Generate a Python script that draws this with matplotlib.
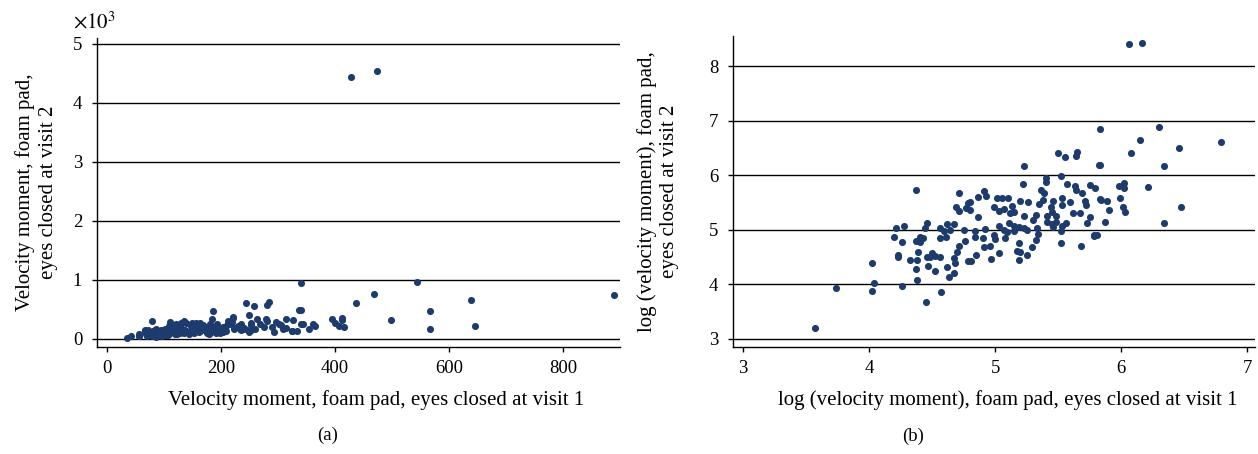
import matplotlib
matplotlib.use("Agg")
import matplotlib.pyplot as plt
import numpy as np

# log(velocity moment), foam pad, eyes closed: visit 1 (x) and visit 2 (y)
log_visit1 = [
    4.37, 4.71, 4.69, 4.71, 4.78, 4.77, 4.21, 4.28, 4.46, 4.44, 4.56, 4.62, 4.67, 4.64,
    4.75, 4.59, 4.20, 4.26, 4.40, 4.37, 4.40, 4.43, 4.56, 4.61, 4.76, 4.71, 4.70, 4.23,
    4.23, 4.39, 4.32, 4.38, 4.46, 4.50, 4.52, 4.56, 4.48, 4.67, 4.68, 4.78, 4.02, 4.47,
    4.52, 4.37, 4.62, 4.67, 4.63, 4.38, 4.04, 4.02, 4.26, 4.45, 4.57,
    5.50, 5.55, 5.65, 5.64, 5.23, 5.82, 5.40, 5.40, 5.52, 5.22, 5.57, 5.63, 5.64, 5.75,
    5.79, 5.69, 4.91, 4.93, 4.86, 4.80, 5.01, 5.05, 5.10, 5.20, 5.26, 5.36, 5.39, 5.38,
    5.35, 5.46, 5.53, 5.59, 5.71, 5.72, 5.83, 5.53, 4.99, 5.03, 5.07, 5.13, 5.15, 5.12,
    5.44, 5.45, 4.80, 4.86, 5.23, 5.32, 5.30, 5.41, 5.48, 5.41, 5.48, 5.62, 5.67, 5.73,
    5.56, 5.53, 5.46, 5.45, 5.11, 5.15, 5.19, 5.23, 5.07, 5.03, 5.09, 5.15, 5.25, 5.33,
    5.34, 5.32, 4.92, 4.84, 4.84, 4.90, 4.99, 5.00, 5.08, 5.52, 5.52, 5.68, 5.78, 5.81,
    4.91, 4.96, 5.19, 5.17, 5.20, 5.29, 5.25, 5.03, 4.85, 4.97, 5.19, 4.81,
    5.83, 6.30, 6.15, 6.46, 6.79, 6.08, 5.83, 6.34, 5.98, 6.02, 6.02, 6.21, 5.84, 5.89,
    5.99, 5.90, 6.01, 6.03, 6.47, 5.75, 5.87, 6.34, 5.78,
    3.57, 3.74, 6.06, 6.16,
]
log_visit2 = [
    5.72, 5.68, 5.42, 5.35, 5.49, 5.39, 5.03, 5.07, 5.12, 5.03, 5.03, 5.11, 5.11, 5.00,
    5.00, 4.97, 4.86, 4.78, 4.87, 4.80, 4.78, 4.84, 4.84, 4.87, 4.80, 4.70, 4.60, 4.54,
    4.50, 4.59, 4.45, 4.45, 4.50, 4.57, 4.52, 4.50, 4.50, 4.48, 4.39, 4.42, 4.39, 4.34,
    4.25, 4.28, 4.32, 4.21, 4.13, 4.07, 4.02, 3.88, 3.97, 3.68, 3.86,
    6.40, 6.34, 6.43, 6.35, 6.16, 6.19, 5.94, 5.88, 5.99, 5.84, 5.84, 5.80, 5.72, 5.82,
    5.76, 5.67, 5.70, 5.62, 5.59, 5.51, 5.58, 5.58, 5.58, 5.53, 5.51, 5.72, 5.67, 5.55,
    5.47, 5.53, 5.58, 5.51, 5.53, 5.45, 5.56, 5.45, 5.42, 5.35, 5.38, 5.44, 5.33, 5.30,
    5.41, 5.33, 5.36, 5.24, 5.25, 5.27, 5.17, 5.25, 5.25, 5.15, 5.15, 5.30, 5.31, 5.13,
    5.13, 5.07, 5.05, 5.11, 5.13, 5.07, 5.05, 5.03, 5.00, 5.07, 4.95, 4.97, 5.00, 5.03,
    4.92, 4.81, 5.01, 4.97, 4.86, 4.84, 4.90, 4.83, 4.84, 4.98, 4.75, 4.71, 4.90, 4.90,
    4.68, 4.70, 4.76, 4.61, 4.60, 4.68, 4.54, 4.58, 4.54, 4.47, 4.45, 4.42,
    6.85, 6.88, 6.64, 6.49, 6.61, 6.40, 6.19, 6.17, 5.80, 5.85, 5.76, 5.79, 5.55, 5.53,
    5.58, 5.36, 5.42, 5.32, 5.41, 5.24, 5.14, 5.12, 4.89,
    3.20, 3.93, 8.40, 8.42,
]

log_visit1 = np.array(log_visit1)
log_visit2 = np.array(log_visit2)
visit1 = np.exp(log_visit1)
visit2 = np.exp(log_visit2)

plt.rcParams["font.family"] = "Liberation Serif"
plt.rcParams["mathtext.fontset"] = "stix"

dot = "#1d3b6c"
fig = plt.figure(figsize=(12.58, 4.54), dpi=100)
ax1 = fig.add_axes([0.0771, 0.2357, 0.4157, 0.6806])
ax2 = fig.add_axes([0.5827, 0.2357, 0.4149, 0.6850])

for ax in (ax1, ax2):
    ax.spines["top"].set_visible(False)
    ax.spines["right"].set_visible(False)
    ax.spines["left"].set_linewidth(1.0)
    ax.spines["bottom"].set_linewidth(1.0)
    ax.tick_params(direction="out", length=3.6, width=1.0, labelsize=13.5)
    ax.tick_params(axis="x", pad=5.8)
    ax.tick_params(axis="y", pad=7)
    ax.yaxis.grid(True, color="black", linewidth=1.0)
    ax.set_axisbelow(True)

# (a) raw values
ax1.scatter(visit1, visit2 / 1000, s=26, color=dot, linewidths=0, zorder=3)
ax1.set_xlim(-17.5, 900)
ax1.set_ylim(-0.136, 5.1)
ax1.set_xticks([0, 200, 400, 600, 800])
ax1.set_yticks([0, 1, 2, 3, 4, 5])
ax1.set_xlabel("Velocity moment, foam pad, eyes closed at visit 1", fontsize=15)
ax1.xaxis.set_label_coords(0.533, -0.139)
ax1.set_ylabel("Velocity moment, foam pad,\neyes closed at visit 2", fontsize=15,
               linespacing=1.25)
ax1.yaxis.set_label_coords(-0.0755, 0.5)
ax1.text(-0.045, 1.015, r"$\times10^3$", transform=ax1.transAxes, fontsize=15,
         ha="left", va="bottom")
ax1.text(0.44, -0.259, "(a)", transform=ax1.transAxes, fontsize=13.5, ha="center", va="top")

# (b) log values
ax2.scatter(log_visit1, log_visit2, s=26, color=dot, linewidths=0, zorder=3)
ax2.set_xlim(2.92, 7.06)
ax2.set_ylim(2.85, 8.55)
ax2.set_xticks([3, 4, 5, 6, 7])
ax2.set_yticks([3, 4, 5, 6, 7, 8])
ax2.set_xlabel("log (velocity moment), foam pad, eyes closed at visit 1", fontsize=15)
ax2.xaxis.set_label_coords(0.527, -0.139)
ax2.set_ylabel("log (velocity moment), foam pad,\neyes closed at visit 2", fontsize=15,
               linespacing=1.25)
ax2.yaxis.set_label_coords(-0.103, 0.5)
ax2.text(0.345, -0.259, "(b)", transform=ax2.transAxes, fontsize=13.5, ha="center", va="top")

fig.savefig("out.png", dpi=100)
